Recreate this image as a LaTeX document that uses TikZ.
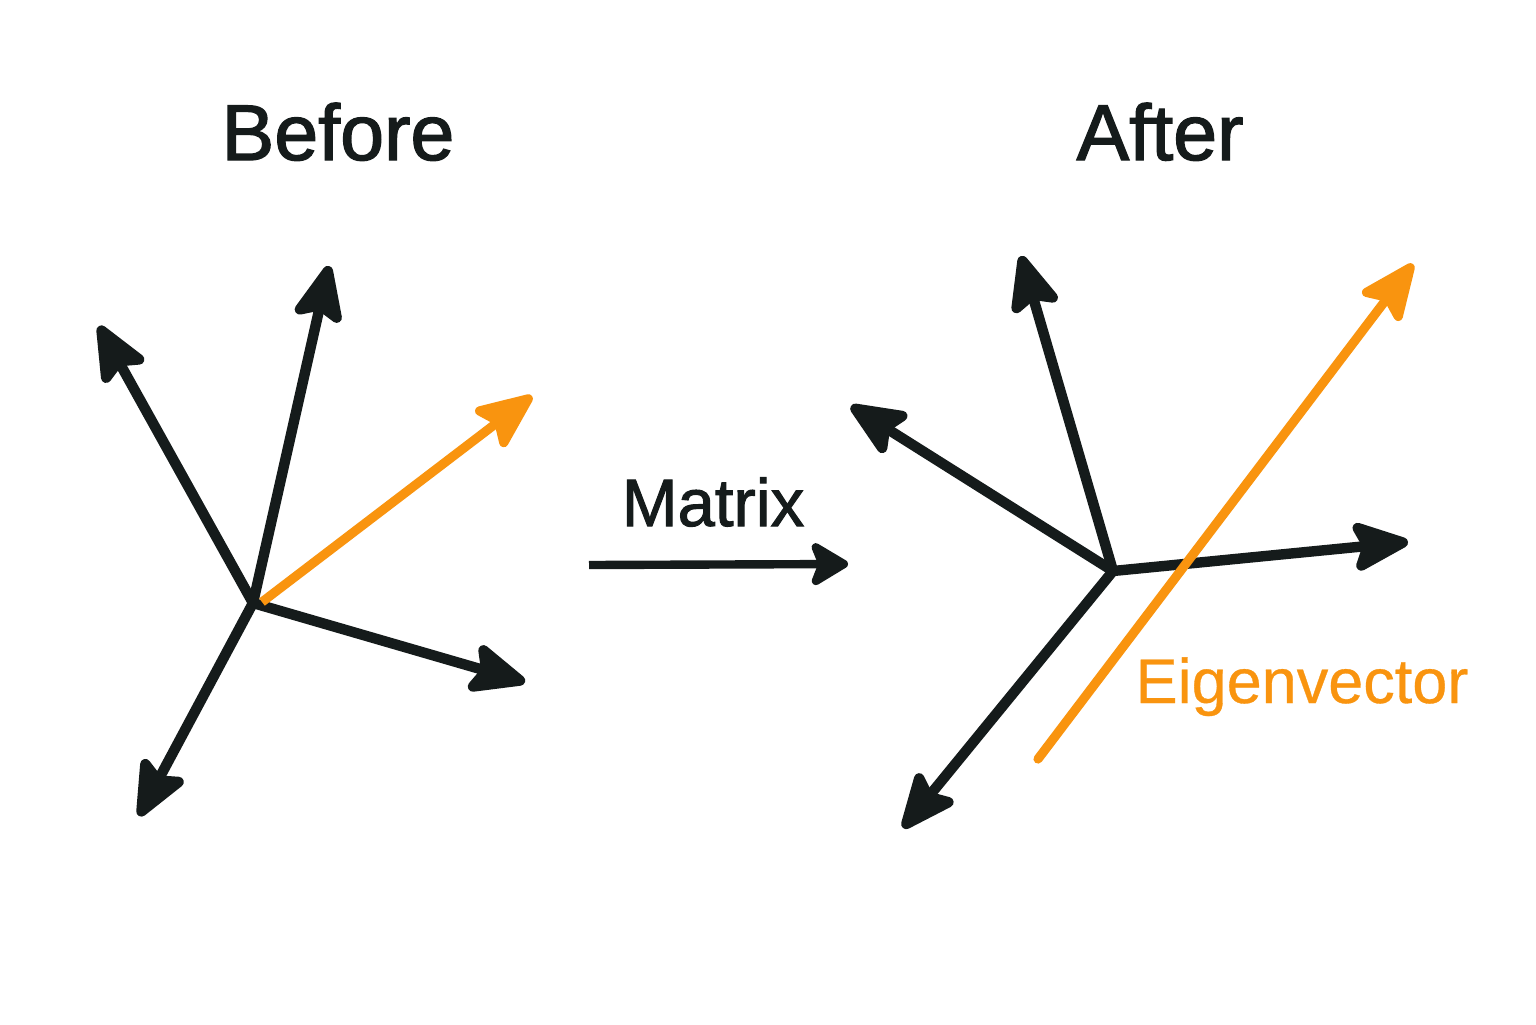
\documentclass[tikz,border=0pt]{standalone}
\usepackage{fontspec}
\setmainfont{Liberation Sans}
\newfontfamily\titlefont[FakeBold=1.7]{Liberation Sans}
\newfontfamily\midfont[FakeBold=1.5]{Liberation Sans}
\newfontfamily\lightfont[FakeBold=0.5]{Liberation Sans}
\usetikzlibrary{arrows.meta}
\definecolor{ink}{HTML}{151B1B}
\definecolor{orng}{HTML}{F9940F}
\tikzset{
  vec/.style={draw=ink, line width=5.2pt, -{Stealth[length=33pt,width=28pt,inset=6pt,round]}},
  ovec/.style={vec, draw=orng, color=orng, line width=4.6pt},
  maparrow/.style={draw=ink, line width=4.2pt, -{Stealth[length=22pt,width=26pt,inset=5pt,round]}},
  title/.style={anchor=base, text=ink, font=\titlefont\fontsize{39.5}{44}\selectfont, inner sep=0pt},
  lbl/.style={anchor=base, text=ink, font=\midfont\fontsize{33.5}{38}\selectfont, inner sep=0pt},
  olbl/.style={anchor=base, text=orng, font=\lightfont\fontsize{31.5}{36}\selectfont, inner sep=0pt}
}
\begin{document}
\begin{tikzpicture}[x=0.5pt,y=-0.5pt]
\useasboundingbox[fill=white] (0,0) rectangle (1536,1024);
% titles
\node[title] (before) at (338,160) {Before};
\node[title] (after) at (1160,160) {After};
\node[lbl] (matrix) at (713,526) {Matrix};
\node[olbl] (eigen) at (1302,703) {Eigenvector};
% before
\coordinate (bo) at (253,603);
\coordinate (bo2) at (262,602);
\coordinate (b1) at (329,266);
\coordinate (b2) at (99,326);
\coordinate (b3) at (532,396);
\coordinate (b4) at (525,682);
\coordinate (b5) at (139,816);
\draw[vec] (bo) -- (b1);
\draw[vec] (bo) -- (b2);
\draw[vec] (bo) -- (b4);
\draw[vec] (bo) -- (b5);
\draw[ovec] (bo2) -- (b3);
% matrix arrow
\coordinate (m0) at (589,565);
\coordinate (m1) at (848,564);
\draw[maparrow] (m0) -- (m1);
% after
\coordinate (ao) at (1113,571);
\coordinate (a1) at (1021,256);
\coordinate (a2) at (851,406);
\coordinate (a3) at (1408,542);
\coordinate (a4) at (903,828);
\coordinate (as) at (1038,759);
\coordinate (a5) at (1413,264);
\draw[vec] (ao) -- (a1);
\draw[vec] (ao) -- (a2);
\draw[vec] (ao) -- (a3);
\draw[vec] (ao) -- (a4);
\draw[ovec, line cap=round] (as) -- (a5);
\end{tikzpicture}
\end{document}
